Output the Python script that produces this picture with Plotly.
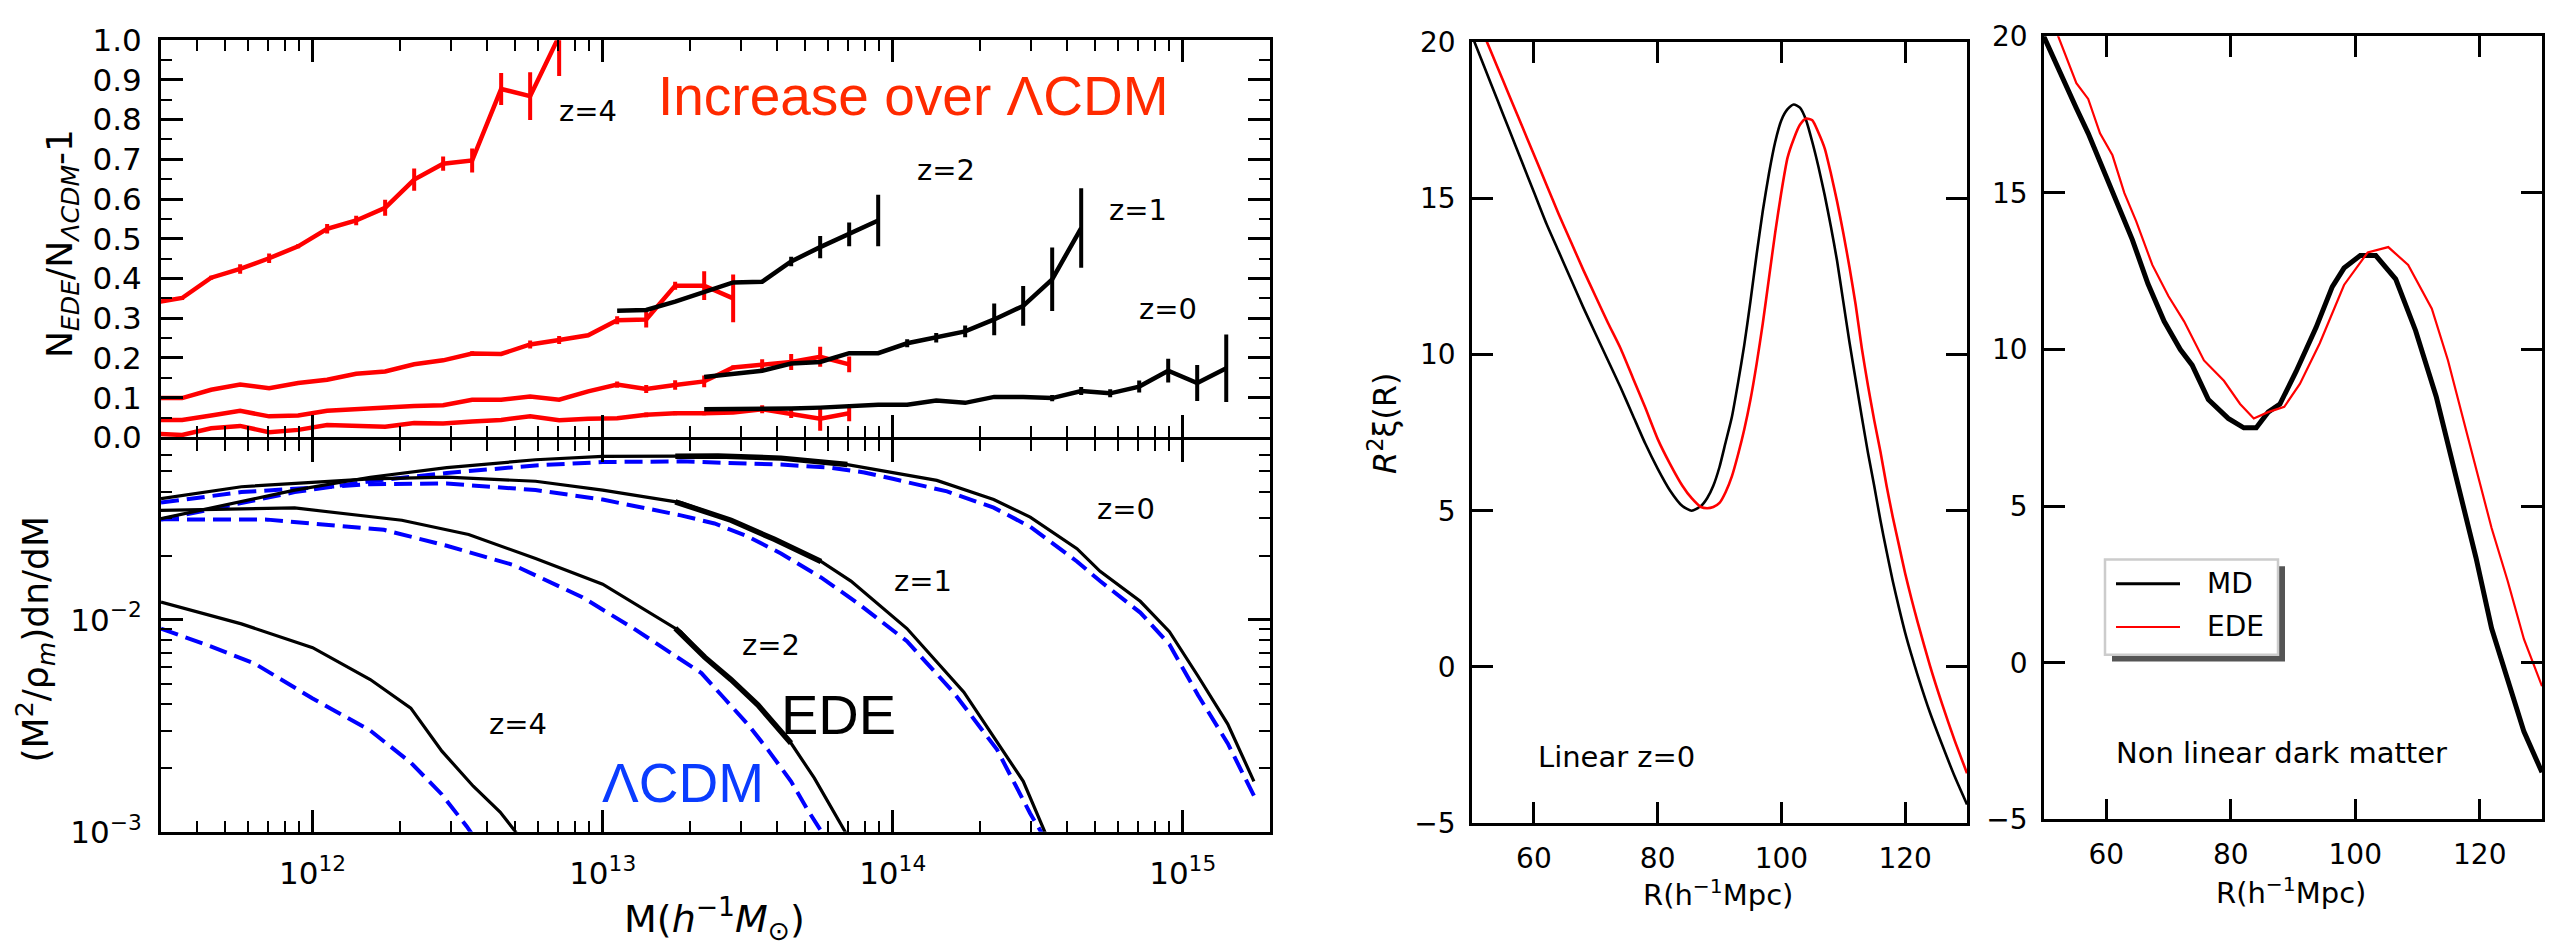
import math
import plotly.graph_objects as go

W, H = 2574, 947


def fx(x):
    return x / W


def fy(y):
    return 1 - y / H


TXT = "DejaVu Sans"
HELV = "Liberation Sans, Arial, sans-serif"

# ---------------- halo abundance ratio N_EDE/N_LCDM - 1 ----------------
# centres of the 0.1 dex mass bins (h^-1 Msun)
ratio_bins = [2.818e11, 3.548e11, 4.467e11, 5.623e11, 7.079e11, 8.913e11,
              1.122e12, 1.413e12, 1.778e12, 2.239e12, 2.818e12, 3.548e12,
              4.467e12, 5.623e12, 7.079e12, 8.913e12, 1.122e13, 1.413e13,
              1.778e13, 2.239e13, 2.818e13, 3.548e13, 4.467e13, 5.623e13,
              7.079e13, 8.913e13, 1.122e14, 1.413e14, 1.778e14, 2.239e14,
              2.818e14, 3.548e14, 4.467e14, 5.623e14, 7.079e14, 8.913e14,
              1.122e15, 1.413e15]

# small box (red), first bin index 0
small_z4 = [0.339, 0.351, 0.402, 0.424, 0.451, 0.481, 0.525, 0.546, 0.578, 0.649,
            0.689, 0.697, 0.877, 0.859, 1.01]
small_z4_err = [0, 0.005, 0.005, 0.012, 0.012, 0.005, 0.012, 0.012, 0.02, 0.028,
                0.018, 0.03, 0.04, 0.06, 0.1]
small_z2 = [0.099, 0.099, 0.12, 0.133, 0.124, 0.137, 0.145, 0.16, 0.166, 0.184,
            0.194, 0.211, 0.21, 0.234, 0.245, 0.257, 0.295, 0.297, 0.382, 0.382, 0.35]
small_z2_err = [0, 0, 0, 0, 0, 0, 0, 0, 0, 0, 0, 0.006, 0, 0.01, 0.01, 0, 0.01, 0.02,
                0.01, 0.036, 0.06]
small_z1 = [0.044, 0.044, 0.055, 0.067, 0.053, 0.055, 0.067, 0.071, 0.077, 0.079,
            0.081, 0.095, 0.095, 0.103, 0.095, 0.116, 0.133, 0.122, 0.132, 0.141,
            0.176, 0.182, 0.19, 0.203, 0.184]
small_z1_err = [0, 0, 0, 0, 0, 0, 0, 0, 0, 0, 0, 0, 0, 0, 0, 0, 0.008, 0.01, 0.012,
                0.015, 0.005, 0.015, 0.02, 0.025, 0.02]
small_z0 = [0.01, 0.006, 0.023, 0.029, 0.013, 0.019, 0.031, 0.028, 0.027, 0.036,
            0.035, 0.04, 0.044, 0.053, 0.043, 0.047, 0.048, 0.057, 0.061, 0.061,
            0.063, 0.071, 0.059, 0.047, 0.061]
small_z0_err = [0, 0, 0, 0, 0, 0, 0, 0, 0, 0, 0, 0, 0, 0, 0, 0, 0, 0.006, 0.005,
                0.005, 0.004, 0.01, 0.01, 0.03, 0.02]

# large box (black)
large_z2_start = 16
large_z2 = [0.319, 0.321, 0.342, 0.366, 0.39, 0.392, 0.443, 0.479, 0.511, 0.546]
large_z2_err = [0, 0, 0, 0, 0, 0, 0.012, 0.028, 0.03, 0.065]
large_z1_start = 19
large_z1 = [0.152, 0.16, 0.168, 0.186, 0.19, 0.212, 0.212, 0.237, 0.251, 0.267,
            0.297, 0.331, 0.398, 0.527]
large_z1_err = [0, 0, 0, 0, 0, 0, 0, 0.01, 0.012, 0.015, 0.04, 0.05, 0.08, 0.1]
large_z0_start = 19
large_z0 = [0.071, 0.071, 0.073, 0.073, 0.075, 0.079, 0.082, 0.082, 0.093, 0.087,
            0.102, 0.102, 0.099, 0.117, 0.111, 0.128, 0.168, 0.137, 0.174]
large_z0_err = [0, 0, 0, 0, 0, 0, 0, 0, 0, 0, 0, 0, 0.008, 0.01, 0.01, 0.015,
                0.03, 0.045, 0.085]

# ---------------- mass functions (M^2/rho_m) dn/dM ----------------
ede_z0_m = [3.0e11, 4.43e11, 8.67e11, 1.58e12, 2.90e12, 5.87e12, 1.0e13, 1.86e13,
            4.12e13, 6.98e13, 1.0e14, 1.42e14, 2.23e14, 2.98e14, 4.32e14, 5.19e14,
            7.14e14, 9.0e14, 1.13e15, 1.43e15, 1.76e15]
ede_z0 = [0.0299, 0.0336, 0.0408, 0.0469, 0.0520, 0.0567, 0.0588, 0.0589, 0.0577,
          0.0538, 0.0494, 0.0453, 0.0368, 0.0304, 0.0216, 0.0169, 0.0122, 0.00877,
          0.00541, 0.00322, 0.00173]
lcdm_z0_m = [3.0e11, 4.43e11, 8.67e11, 1.58e12, 2.90e12, 5.87e12, 1.0e13, 1.86e13,
             4.12e13, 6.12e13, 7.98e13, 1.0e14, 1.54e14, 2.23e14, 2.98e14, 4.32e14,
             5.19e14, 7.14e14, 9.0e14, 1.13e15, 1.43e15, 1.76e15]
lcdm_z0 = [0.0296, 0.0331, 0.0399, 0.0449, 0.0491, 0.0533, 0.0553, 0.0557, 0.0538,
           0.0520, 0.0494, 0.0461, 0.0402, 0.0337, 0.0274, 0.0188, 0.0152, 0.0108,
           0.00764, 0.00440, 0.00261, 0.00148]

ede_z1_m = [3.0e11, 5.68e11, 1.58e12, 2.9e12, 5.87e12, 1.0e13, 1.86e13, 2.77e13,
            3.91e13, 5.66e13, 7.18e13, 1.12e14, 1.76e14, 2.82e14, 3.4e14, 4.0e14]
ede_z1 = [0.0372, 0.0423, 0.0461, 0.0469, 0.0449, 0.0408, 0.0356, 0.0294, 0.0239,
          0.0188, 0.0152, 0.00908, 0.00455, 0.00173, 0.00095, 0.00068]
lcdm_z1_m = [3.0e11, 5.68e11, 1.58e12, 2.9e12, 5.87e12, 1.0e13, 1.86e13, 2.43e13,
             3.16e13, 4.12e13, 5.66e13, 7.55e13, 1.12e14, 1.62e14, 2.29e14, 2.98e14,
             3.4e14]
lcdm_z1 = [0.0356, 0.0399, 0.0435, 0.0438, 0.0408, 0.0368, 0.0310, 0.0284, 0.0247,
           0.0205, 0.0158, 0.0120, 0.00791, 0.00455, 0.00244, 0.00122, 0.00090]

ede_z2_m = [3.0e11, 8.67e11, 2.03e12, 3.45e12, 5.87e12, 1.0e13, 1.86e13, 2.25e13,
            2.77e13, 3.43e13, 4.46e13, 5.37e13, 6.98e13, 7.9e13]
ede_z2 = [0.0327, 0.0336, 0.0294, 0.0252, 0.0194, 0.0147, 0.00877, 0.00665, 0.00522,
          0.00396, 0.00262, 0.00179, 0.00096, 0.00075]
lcdm_z2_m = [3.0e11, 7.0e11, 1.76e12, 2.9e12, 4.92e12, 8.47e12, 1.28e13, 1.86e13,
             2.19e13, 2.63e13, 3.16e13, 3.71e13, 4.46e13, 5.09e13, 5.81e13, 6.5e13]
lcdm_z2 = [0.0297, 0.0296, 0.0265, 0.0223, 0.0181, 0.0128, 0.00908, 0.00643, 0.00560,
           0.00425, 0.00322, 0.00244, 0.00173, 0.00127, 0.00096, 0.00075]

ede_z4_m = [3.0e11, 5.68e11, 1.0e12, 1.58e12, 2.18e12, 2.79e12, 3.58e12, 4.43e12,
            5.01e12, 5.62e12]
ede_z4 = [0.0121, 0.00955, 0.00738, 0.00522, 0.00383, 0.00240, 0.00164, 0.00124,
          0.00100, 0.00079]
lcdm_z4_m = [3.0e11, 4.43e11, 6.31e11, 1.0e12, 1.58e12, 2.18e12, 2.79e12, 3.4e12, 3.8e12]
lcdm_z4 = [0.00908, 0.00750, 0.00621, 0.00425, 0.00300, 0.00212, 0.00150, 0.00106,
           0.00085]

# large-box EDE segments drawn over the small-box curves
big_z0_m = [1.78e13, 2.5e13, 4.12e13, 6.98e13]
big_z0 = [0.0589, 0.0590, 0.0577, 0.0538]
big_z1_m = [1.78e13, 2.77e13, 3.91e13, 5.66e13]
big_z1 = [0.0359, 0.0294, 0.0239, 0.0188]
big_z2_m = [1.78e13, 2.25e13, 2.77e13, 3.43e13, 4.46e13]
big_z2 = [0.0091, 0.00665, 0.00522, 0.00396, 0.00262]

# ---------------- correlation function R^2 xi(R) ----------------
lin_r = [50, 52, 54, 56, 58, 60, 62, 64, 66, 68, 70, 72, 74, 76, 78, 80, 82, 84, 85.5,
         87, 88, 89, 90, 91, 92, 93, 94, 95, 96, 97, 98, 99, 100, 101, 102, 103, 104,
         105, 106, 107, 108, 109, 110, 111, 112, 113, 114, 115, 116, 117, 118, 119,
         120, 121, 122, 124, 126, 128, 130]
lin_md = [20.2, 19.2, 18.2, 17.2, 16.2, 15.2, 14.2, 13.3, 12.4, 11.5, 10.65, 9.8, 8.95,
          8.05, 7.15, 6.35, 5.65, 5.15, 5.0,
          5.15, 5.4, 5.8, 6.4, 7.2, 8.0, 9.1, 10.3, 11.7, 13.2, 14.6, 15.8, 16.8, 17.5,
          17.85, 18.0, 17.9, 17.5, 16.8, 16.0, 15.1, 14.1, 13.0, 11.7, 10.4, 9.2, 8.0,
          6.85, 5.8, 4.7, 3.7, 2.75, 1.9, 1.1, 0.4, -0.25, -1.45, -2.5, -3.5, -4.4]
lin_ede = [21.2, 20.2, 19.25, 18.3, 17.35, 16.4, 15.45, 14.5, 13.6, 12.7, 11.85, 11.0,
           10.2, 9.25, 8.3, 7.3, 6.5, 5.8, 5.4,
           5.12, 5.08, 5.12, 5.25, 5.6, 6.1, 6.8, 7.6, 8.55, 9.7, 11.0, 12.45, 13.9, 15.2,
           16.3, 16.9, 17.35, 17.55, 17.5, 17.1, 16.6, 15.8, 14.9, 13.9, 12.8, 11.6,
           10.2, 9.0, 7.9, 6.9, 5.8, 4.8, 3.9, 3.0, 2.2, 1.45, 0.05, -1.2, -2.35, -3.4]

nl_md_r = [49.5, 52.6, 55.2, 57.1, 59.0, 61.6, 64.2, 66.7, 69.3, 71.9, 73.8, 76.4, 79.6,
           82.1, 84.1, 86.0, 87.9, 90.5, 93.7, 96.3, 98.2, 100.8, 103.3, 106.5, 109.7,
           113.0, 116.2, 119.4, 121.9, 124.5, 127.1, 130.0]
nl_md = [20.2, 18.8, 17.7, 16.9, 16.0, 14.7, 13.5, 12.1, 10.9, 10.0, 9.5, 8.4, 7.8, 7.5,
         7.5, 8.0, 8.26, 9.3, 10.7, 12.0, 12.6, 13.0, 13.0, 12.25, 10.6, 8.5, 5.9, 3.35,
         1.1, -0.55, -2.2, -3.5]
nl_ede_r = [51.5, 52.3, 55.2, 57.1, 59.0, 61.0, 62.9, 64.8, 67.4, 70.0, 72.5, 75.7, 78.9,
            81.5, 83.7, 86.0, 88.6, 91.1, 94.3, 98.2, 102.0, 105.3, 108.5, 112.3, 114.9,
            118.1, 121.9, 124.5, 127.1, 130.0]
nl_ede = [20.4, 20.0, 18.5, 18.0, 16.9, 16.2, 15.0, 14.1, 12.7, 11.7, 10.9, 9.65, 9.0,
          8.26, 7.8, 8.0, 8.17, 8.9, 10.2, 12.06, 13.1, 13.27, 12.7, 11.3, 9.65, 7.2, 4.3,
          2.6, 0.75, -0.75]

# ---------------- tick layout ----------------
mass_major = [1e12, 1e13, 1e14, 1e15]
mass_major_text = ["10<sup>12</sup>", "10<sup>13</sup>", "10<sup>14</sup>", "10<sup>15</sup>"]
mass_minor = [m * 10.0 ** e for e in range(11, 16) for m in range(2, 10)]
mf_major = [1e-3, 1e-2]
mf_major_text = ["10<sup>\u22123</sup>", "10<sup>\u22122</sup>"]
mf_minor = [m * 1e-3 for m in range(2, 10)] + [m * 1e-2 for m in range(2, 8)]

fig = go.Figure()


def ratio_trace(start, vals, errs, color):
    return go.Scatter(
        x=ratio_bins[start:start + len(vals)], y=vals, mode="lines",
        line=dict(color=color, width=4.5),
        error_y=dict(type="data", array=errs, visible=True, width=0, thickness=4, color=color),
        xaxis="x", yaxis="y", showlegend=False, hoverinfo="skip")


for vals, errs in [(small_z4, small_z4_err), (small_z2, small_z2_err),
                   (small_z1, small_z1_err), (small_z0, small_z0_err)]:
    fig.add_trace(ratio_trace(0, vals, errs, "#ff0000"))
for start, vals, errs in [(large_z2_start, large_z2, large_z2_err),
                          (large_z1_start, large_z1, large_z1_err),
                          (large_z0_start, large_z0, large_z0_err)]:
    fig.add_trace(ratio_trace(start, vals, errs, "black"))

for m, v in [(lcdm_z0_m, lcdm_z0), (lcdm_z1_m, lcdm_z1), (lcdm_z2_m, lcdm_z2), (lcdm_z4_m, lcdm_z4)]:
    fig.add_trace(go.Scatter(x=m, y=v, mode="lines", xaxis="x2", yaxis="y2",
                             line=dict(color="#0000ff", width=4, dash="18px,8px"),
                             showlegend=False, hoverinfo="skip"))
for m, v in [(ede_z0_m, ede_z0), (ede_z1_m, ede_z1), (ede_z2_m, ede_z2), (ede_z4_m, ede_z4)]:
    fig.add_trace(go.Scatter(x=m, y=v, mode="lines", xaxis="x2", yaxis="y2",
                             line=dict(color="black", width=3.2),
                             showlegend=False, hoverinfo="skip"))
for m, v in [(big_z0_m, big_z0), (big_z1_m, big_z1), (big_z2_m, big_z2)]:
    fig.add_trace(go.Scatter(x=m, y=v, mode="lines", xaxis="x2", yaxis="y2",
                             line=dict(color="black", width=5.5),
                             showlegend=False, hoverinfo="skip"))

fig.add_trace(go.Scatter(x=lin_r, y=lin_md, mode="lines", xaxis="x3", yaxis="y3",
                         line=dict(color="black", width=2.6, shape="spline", smoothing=0.6),
                         showlegend=False, hoverinfo="skip"))
fig.add_trace(go.Scatter(x=lin_r, y=lin_ede, mode="lines", xaxis="x3", yaxis="y3",
                         line=dict(color="#ff0000", width=2.6, shape="spline", smoothing=0.6),
                         showlegend=False, hoverinfo="skip"))
fig.add_trace(go.Scatter(x=nl_md_r, y=nl_md, mode="lines", xaxis="x4", yaxis="y4",
                         line=dict(color="black", width=5), showlegend=False, hoverinfo="skip"))
fig.add_trace(go.Scatter(x=nl_ede_r, y=nl_ede, mode="lines", xaxis="x4", yaxis="y4",
                         line=dict(color="#ff0000", width=2.2), showlegend=False, hoverinfo="skip"))


def frame(**kw):
    d = dict(showline=True, linecolor="black", linewidth=3, mirror="ticks", ticks="inside",
             tickcolor="black", tickwidth=2.5, ticklen=22, showgrid=False, zeroline=False,
             tickfont=dict(family=TXT, size=31, color="black"))
    d.update(kw)
    return d


left_dom = [fx(161), fx(1270)]
mass_range = [math.log10(3e11), math.log10(2e15)]
minor_mass = dict(tickvals=mass_minor, ticks="inside", ticklen=11, tickwidth=2, tickcolor="black",
                  showgrid=False)

fig.update_layout(
    width=W, height=H, margin=dict(l=0, r=0, t=0, b=0),
    paper_bgcolor="white", plot_bgcolor="white", showlegend=False,
    xaxis=frame(type="log", range=mass_range, domain=left_dom, anchor="y",
                tickmode="array", tickvals=mass_major, showticklabels=False, minor=minor_mass),
    yaxis=frame(range=[0, 1], domain=[fy(436), fy(23)], anchor="x",
                tickmode="array", tickvals=[i / 10 for i in range(11)],
                ticktext=["%.1f" % (i / 10) for i in range(11)], ticklabelstandoff=10,
                minor=dict(dtick=0.05, ticks="inside", ticklen=11, tickwidth=2, tickcolor="black",
                           showgrid=False)),
    # the lower frame starts 3 px below so its top line sits on the upper frame's bottom line
    xaxis2=frame(type="log", range=mass_range, domain=left_dom, anchor="y2",
                 tickmode="array", tickvals=mass_major, ticktext=mass_major_text,
                 ticklabelstandoff=12, minor=minor_mass),
    yaxis2=frame(type="log", range=[-3, math.log10(0.07)], domain=[fy(846), fy(439)], anchor="x2",
                 tickmode="array", tickvals=mf_major, ticktext=mf_major_text, ticklabelstandoff=10,
                 minor=dict(tickvals=mf_minor, ticks="inside", ticklen=11, tickwidth=2,
                            tickcolor="black", showgrid=False)),
    xaxis3=frame(range=[50, 130], domain=[fx(1472), fx(1967)], anchor="y3", linewidth=2.5,
                 ticklen=21, tickmode="array", tickvals=[60, 80, 100, 120],
                 tickfont=dict(family=TXT, size=28, color="black"), ticklabelstandoff=8),
    yaxis3=frame(range=[-5, 20], domain=[fy(837), fy(25)], anchor="x3", linewidth=2.5,
                 ticklen=21, tickmode="array", tickvals=[-5, 0, 5, 10, 15, 20],
                 tickfont=dict(family=TXT, size=28, color="black"), ticklabelstandoff=8),
    xaxis4=frame(range=[50, 130], domain=[fx(2044), fx(2542)], anchor="y4", linewidth=2.5,
                 ticklen=21, tickmode="array", tickvals=[60, 80, 100, 120],
                 tickfont=dict(family=TXT, size=28, color="black"), ticklabelstandoff=8),
    yaxis4=frame(range=[-5, 20], domain=[fy(833), fy(19)], anchor="x4", linewidth=2.5,
                 ticklen=21, tickmode="array", tickvals=[-5, 0, 5, 10, 15, 20],
                 tickfont=dict(family=TXT, size=28, color="black"), ticklabelstandoff=8),
)


def note(text, x, y, size, color="black", family=TXT, angle=0, anchor="center"):
    fig.add_annotation(text=text, x=fx(x), y=fy(y), xref="paper", yref="paper",
                       showarrow=False, xanchor=anchor, yanchor="middle", textangle=angle,
                       font=dict(family=family, size=size, color=color))


# top-left labels
note("Increase over \u039bCDM", 913, 81, 55, "#ff2a00", HELV)
note("z=4", 588, 97, 29)
note("z=2", 946, 158, 29)
note("z=1", 1138, 200, 29)
note("z=0", 1168, 303, 29)
note("N<sub><i>EDE</i></sub>/N<sub><i>\u039bCDM</i></sub>-1", 62, 235, 36, angle=-90)

# bottom-left labels
note("z=4", 518, 734, 29)
note("z=2", 771, 652, 29)
note("z=1", 923, 585, 29)
note("z=0", 1126, 510, 29)
note("EDE", 838, 724, 56, "black", HELV)
note("\u039bCDM", 683, 795, 55, "#0a3cff", HELV)
note("(M<sup>2</sup>/\u03c1<sub><i>m</i></sub>)dn/dM", 36, 646, 36, angle=-90)
note("M(<i>h</i><sup>\u22121</sup><i>M</i><sub>\u2299</sub>)", 714, 936, 38)

# correlation function panels
note("<i>R</i><sup>2</sup>\u03be(R)", 1383, 421, 32, angle=-90)
note("R(h<sup>\u22121</sup>Mpc)", 1718, 910, 29)
note("R(h<sup>\u22121</sup>Mpc)", 2291, 907, 29)
note("Linear z=0", 1616, 768, 29)
note("Non linear dark matter", 2281, 764, 29)

# legend box with drop shadow
fig.add_shape(type="rect", xref="paper", yref="paper", x0=fx(2112), x1=fx(2285),
              y0=fy(669), y1=fy(570), fillcolor="#555555", line=dict(width=0))
fig.add_shape(type="rect", xref="paper", yref="paper", x0=fx(2105), x1=fx(2278),
              y0=fy(662), y1=fy(563), fillcolor="white", line=dict(color="#cccccc", width=2.5))
fig.add_shape(type="line", xref="paper", yref="paper", x0=fx(2116), x1=fx(2180),
              y0=fy(588), y1=fy(588), line=dict(color="black", width=3))
fig.add_shape(type="line", xref="paper", yref="paper", x0=fx(2116), x1=fx(2180),
              y0=fy(633), y1=fy(633), line=dict(color="#ff0000", width=2))
note("MD", 2205, 588, 28, anchor="left")
note("EDE", 2205, 633, 28, anchor="left")

fig.write_html("out.html")
